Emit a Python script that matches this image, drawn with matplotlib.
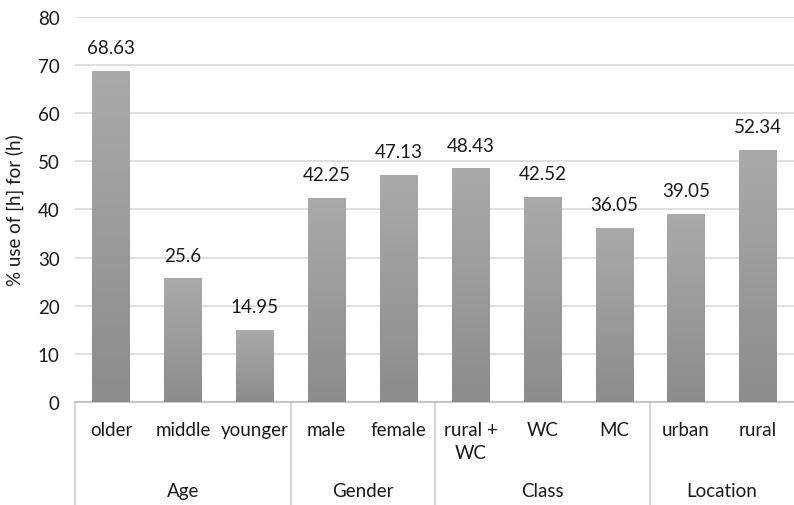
import numpy as np
import matplotlib.pyplot as plt
from matplotlib.colors import LinearSegmentedColormap
from matplotlib.transforms import blended_transform_factory

categories = ['older', 'middle', 'younger', 'male', 'female',
              'rural +\nWC', 'WC', 'MC', 'urban', 'rural']
values = [68.63, 25.6, 14.95, 42.25, 47.13, 48.43, 42.52, 36.05, 39.05, 52.34]
value_labels = ['68.63', '25.6', '14.95', '42.25', '47.13',
                '48.43', '42.52', '36.05', '39.05', '52.34']
groups = ['Age', 'Gender', 'Class', 'Location']
group_sizes = [3, 2, 3, 2]

plt.rcParams['font.family'] = ['Lato', 'DejaVu Sans']
fs = 13.5

fig = plt.figure(figsize=(7.94, 5.06), dpi=100)
ax = fig.add_axes([0.0945, 0.2036, 0.9055, 0.7608])

x = np.arange(len(values))
bars = ax.bar(x, values, width=0.52, color='none', zorder=3)

# vertical gradient fill for each bar
cmap = LinearSegmentedColormap.from_list('g', ['#8c8c8c', '#aaaaaa'])
grad = np.linspace(0, 1, 256).reshape(-1, 1)
for b in bars:
    x0, w, h = b.get_x(), b.get_width(), b.get_height()
    ax.imshow(grad, extent=[x0, x0 + w, 0, h], origin='lower', aspect='auto',
              cmap=cmap, zorder=3, interpolation='bilinear')

for xi, v, lab in zip(x, values, value_labels):
    ax.annotate(lab, (xi, v), xytext=(0, 11), textcoords='offset points',
                ha='center', va='bottom', fontsize=fs, color='#1a1a1a')

ax.set_xlim(-0.5, len(values) - 0.5)
ax.set_ylim(0, 80)
ax.set_yticks(range(0, 81, 10))
ax.yaxis.grid(True, color='#d9d9d9', linewidth=1.2, zorder=0)
ax.set_axisbelow(True)
ax.tick_params(axis='y', length=0, pad=11, labelsize=fs, labelcolor='#1a1a1a')
ax.set_xticks([])
for s in ['top', 'right', 'left']:
    ax.spines[s].set_visible(False)
ax.spines['bottom'].set_color('#bfbfbf')
ax.spines['bottom'].set_linewidth(1.2)
ax.set_ylabel('% use of [h] for (h)', fontsize=fs, labelpad=10, color='#1a1a1a')

trans = blended_transform_factory(ax.transData, ax.transAxes)
for xi, c in zip(x, categories):
    ax.annotate(c, (xi, 0), xycoords=trans, xytext=(0, -14),
                textcoords='offset points', ha='center', va='top',
                fontsize=fs, linespacing=1.4, color='#1a1a1a')

# group labels and separators
sep_bottom = -0.27
start = 0
edges = [-0.5]
for g, n in zip(groups, group_sizes):
    center = start + (n - 1) / 2
    ax.annotate(g, (center, 0), xycoords=trans, xytext=(0, -64),
                textcoords='offset points', ha='center', va='center',
                fontsize=fs, color='#1a1a1a')
    start += n
    edges.append(start - 0.5)
for e in edges[:-1]:
    ax.plot([e, e], [0, sep_bottom], transform=trans, color='#d0d0d0',
            linewidth=1.2, clip_on=False)

fig.savefig('out.png', dpi=100)
